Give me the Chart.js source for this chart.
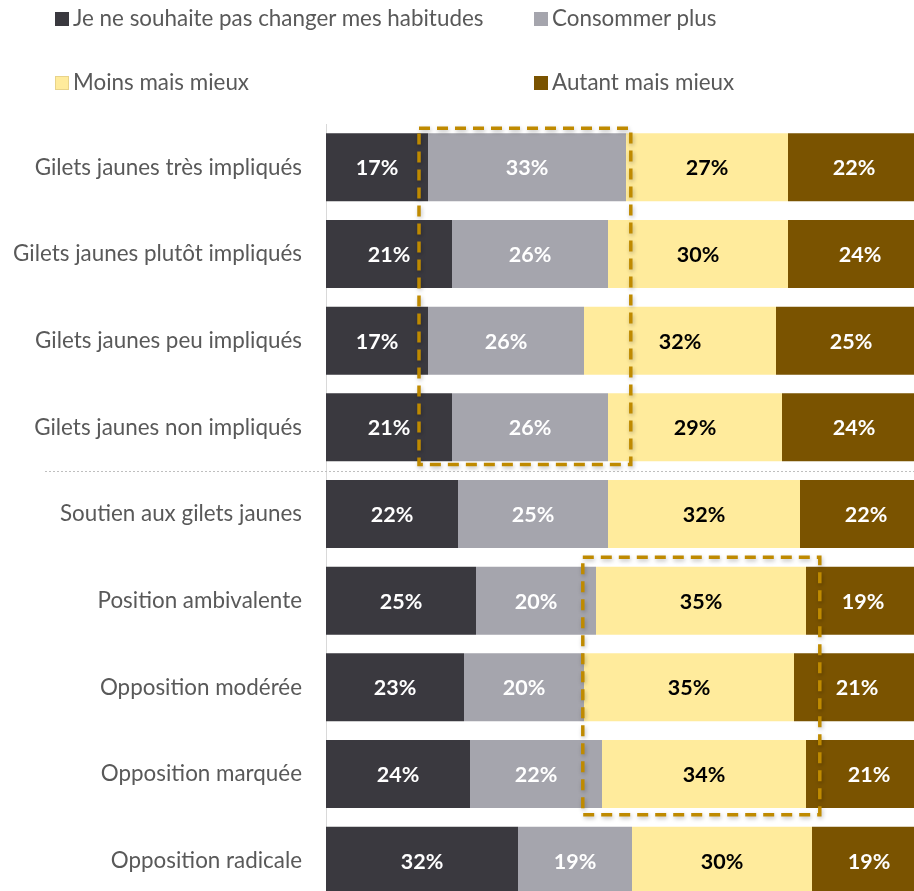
<!DOCTYPE html>
<html>
<head>
<meta charset="utf-8">
<script src="https://cdn.jsdelivr.net/npm/chart.js@4/dist/chart.umd.min.js"></script>
<style>
  html, body { margin: 0; padding: 0; background: #fff; overflow: hidden; width: 914px; height: 891px; }
  #wrap { position: absolute; left: 0; top: 0; width: 930px; height: 910px; }
  #c { display: block; width: 930px; height: 910px; }
  .legend { position: absolute; font-family: Lato, sans-serif; font-size: 22.4px; color: #595959; white-space: nowrap; line-height: 1; }
  .legend .sw { display: inline-block; width: 14px; height: 14px; margin-right: 4px; vertical-align: 0px; }
</style>
</head>
<body>
<div id="wrap"><canvas id="c" width="930" height="910"></canvas></div>
<div id="legend"></div>
<script>
const categories = [
  "Gilets jaunes très impliqués",
  "Gilets jaunes plutôt impliqués",
  "Gilets jaunes peu impliqués",
  "Gilets jaunes non impliqués",
  "Soutien aux gilets jaunes",
  "Position ambivalente",
  "Opposition modérée",
  "Opposition marquée",
  "Opposition radicale"
];
const seriesNames = [
  "Je ne souhaite pas changer mes habitudes",
  "Consommer plus",
  "Moins mais mieux",
  "Autant mais mieux"
];
const pasChanger    = [17, 21, 17, 21, 22, 25, 23, 24, 32];
const consommerPlus = [33, 26, 26, 26, 25, 20, 20, 22, 19];
const moinsMieux    = [27, 30, 32, 29, 32, 35, 35, 34, 30];
const autantMieux   = [22, 24, 25, 24, 22, 19, 21, 21, 19];

const colors = ["#3A393F", "#A5A5AD", "#FFEB9C", "#7A5300"];
const labelColors = ["#FFFFFF", "#FFFFFF", "#000000", "#FFFFFF"];

// Highlight boxes (category index range, value range)
const highlightBoxes = [
  { catFrom: -0.45, catTo: 3.43, valFrom: 15.5, valTo: 50.8 },
  { catFrom: 4.5,  catTo: 7.47, valFrom: 42.8, valTo: 82.3 }
];
const separatorAfter = 3; // dotted line between the two groups

const legendPos = [[55, 7], [534, 7], [55, 71], [534, 71]];
const lg = document.getElementById('legend');
seriesNames.forEach((name, si) => {
  const d = document.createElement('div');
  d.className = 'legend';
  d.style.left = legendPos[si][0] + 'px';
  d.style.top = legendPos[si][1] + 'px';
  const sw = document.createElement('span');
  sw.className = 'sw';
  sw.style.background = colors[si];
  if (si === 2) { sw.style.boxSizing = 'border-box'; sw.style.border = '1px solid #E8D38A'; }
  d.appendChild(sw);
  d.appendChild(document.createTextNode(name));
  lg.appendChild(d);
});

const valueLabels = {
  id: 'valueLabels',
  afterDatasetsDraw(chart) {
    const ctx = chart.ctx;
    ctx.save();
    ctx.font = 'bold 21.5px Lato, sans-serif';
    ctx.textAlign = 'center';
    ctx.textBaseline = 'middle';
    chart.data.datasets.forEach((ds, i) => {
      const meta = chart.getDatasetMeta(i);
      meta.data.forEach((el, j) => {
        ctx.fillStyle = labelColors[i];
        ctx.fillText(ds.data[j] + '%', (el.x + el.base) / 2, el.y + 1);
      });
    });
    ctx.restore();
  }
};

const overlays = {
  id: 'overlays',
  afterDraw(chart) {
    const ctx = chart.ctx;
    const xs = chart.scales.x, ys = chart.scales.y;
    const band = ys.getPixelForValue(1) - ys.getPixelForValue(0);
    ctx.save();
    const sy = Math.round((ys.getPixelForValue(separatorAfter) + ys.getPixelForValue(separatorAfter + 1)) / 2) + 0.5;
    ctx.strokeStyle = '#BFBFBF';
    ctx.lineWidth = 1;
    ctx.setLineDash([2, 2]);
    ctx.beginPath();
    ctx.moveTo(45, sy);
    ctx.lineTo(chart.width, sy);
    ctx.stroke();
    ctx.strokeStyle = '#BF8A00';
    ctx.lineWidth = 3.5;
    ctx.setLineDash([11, 7]);
    ctx.shadowColor = 'rgba(0,0,0,0.25)';
    ctx.shadowBlur = 4;
    ctx.shadowOffsetX = 1;
    ctx.shadowOffsetY = 2;
    highlightBoxes.forEach(b => {
      const x1 = xs.getPixelForValue(b.valFrom);
      const x2 = xs.getPixelForValue(b.valTo);
      const y1 = ys.getPixelForValue(0) + b.catFrom * band;
      const y2 = ys.getPixelForValue(0) + b.catTo * band;
      ctx.beginPath();
      ctx.rect(x1, y1, x2 - x1, y2 - y1);
      ctx.stroke();
    });
    ctx.restore();
  }
};

const seriesData = [pasChanger, consommerPlus, moinsMieux, autantMieux];
new Chart(document.getElementById('c'), {
  type: 'bar',
  data: {
    labels: categories,
    datasets: seriesData.map((d, i) => ({
      label: seriesNames[i],
      data: d,
      backgroundColor: colors[i],
      borderWidth: 0,
      categoryPercentage: 0.785,
      barPercentage: 1
    }))
  },
  options: {
    indexAxis: 'y',
    responsive: false,
    maintainAspectRatio: false,
    animation: false,
    layout: { padding: { top: 124, bottom: 6, right: 4, left: 0 } },
    plugins: { legend: { display: false }, tooltip: { enabled: false } },
    scales: {
      x: { stacked: true, min: 0, max: 100, display: false },
      y: {
        stacked: true,
        grid: { display: false, drawTicks: false },
        border: { display: true, color: '#D9D9D9', width: 1 },
        ticks: { color: '#595959', font: { family: 'Lato', size: 22.4 }, padding: 24 },
        afterFit(scale) { scale.width = 326; scale.paddingTop = 0; scale.paddingBottom = 0; }
      }
    }
  },
  plugins: [valueLabels, overlays]
});
</script>
</body>
</html>
